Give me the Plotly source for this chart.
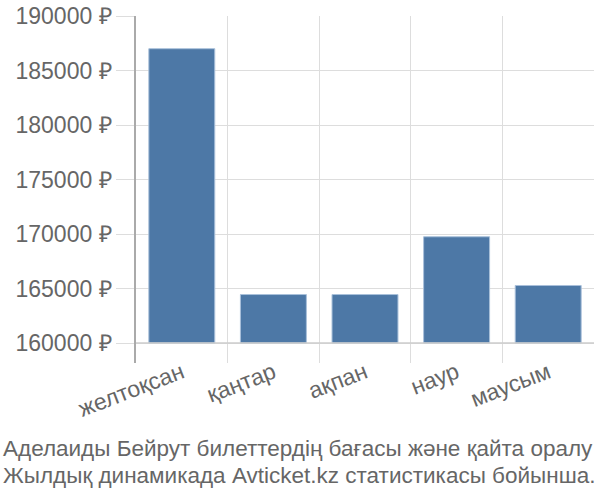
import plotly.graph_objects as go

months = ["желтоқсан", "қаңтар", "ақпан", "наур", "маусым"]
prices = [187000, 164450, 164450, 169750, 165280]
base_price = 160000
y_ticks = [160000, 165000, 170000, 175000, 180000, 185000, 190000]
y_labels = ["{} ₽".format(v) for v in y_ticks]

title_lines = ["Аделаиды Бейрут билеттердің бағасы және қайта оралу",
               "Жылдық динамикада Avticket.kz статистикасы бойынша."]

bars = go.Bar(
    x=months,
    y=[p - base_price for p in prices],
    base=base_price,
    marker=dict(color="#4d78a6", line=dict(color="#a9c0da", width=1)),
    width=0.72,
)

fig = go.Figure(data=[bars])
fig.update_layout(
    width=600, height=500,
    margin=dict(l=136, r=6, t=16, b=137),
    plot_bgcolor="white", paper_bgcolor="white",
    font=dict(family="Liberation Sans, Arial, sans-serif", color="#666666"),
    showlegend=False,
)
# two caption lines under the chart, set a bit tighter than a <br> title
for i, line in enumerate(title_lines):
    fig.add_annotation(text=line, xref="paper", yref="paper",
                       x=-0.295, xanchor="left",
                       y=-0.245 - i * 0.078, yanchor="middle",
                       showarrow=False, font=dict(size=22.5, color="#666666"))
fig.update_xaxes(
    tickson="boundaries", showgrid=True, gridcolor="#dddddd", gridwidth=1,
    ticks="", tickangle=-21, tickfont=dict(size=23), automargin=False,
    ticklabelstandoff=-9,
)
fig.update_yaxes(
    range=[158170, 190000], tickvals=y_ticks, ticktext=y_labels,
    showgrid=True, gridcolor="#dddddd", gridwidth=1,
    ticks="outside", ticklen=18, tickcolor="#dddddd",
    showline=True, linecolor="#aaaaaa", linewidth=1.5,
    tickfont=dict(size=23), zeroline=False, automargin=False,
)
fig.add_hline(y=base_price, line=dict(color="#cccccc", width=1.5))

# page body has a default 8px margin; drop it so the chart sits at 0,0
fig.write_html("out.html", config={"displayModeBar": False},
               post_script="document.body.style.margin='0';")
